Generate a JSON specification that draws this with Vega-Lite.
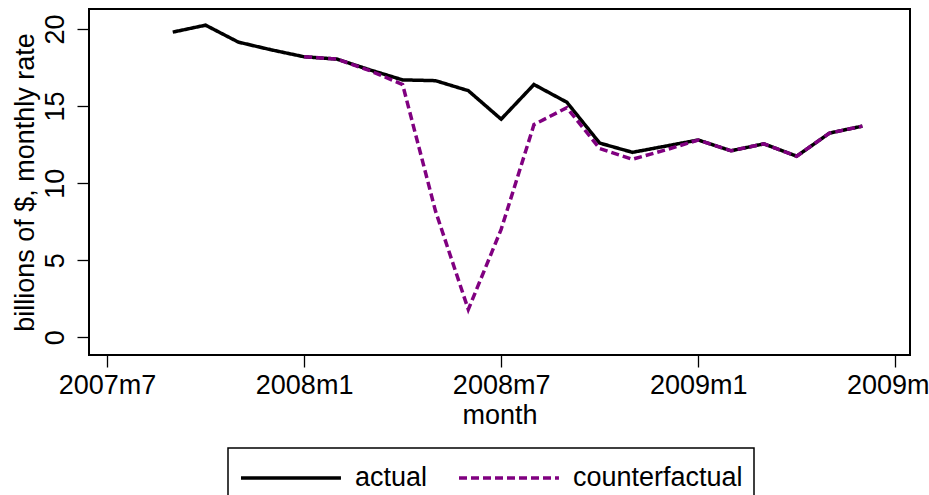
{
  "$schema": "https://vega.github.io/schema/vega-lite/v6.json",
  "width": 821,
  "height": 346,
  "autosize": "none",
  "padding": {"left": 89, "top": 9, "right": 19, "bottom": 140},
  "background": "white",
  "config": {
    "font": "Liberation Sans",
    "view": {"stroke": "black", "strokeWidth": 2},
    "axis": {
      "grid": false,
      "domain": false,
      "tickColor": "black",
      "tickWidth": 1.3,
      "tickSize": 12,
      "labelFont": "Liberation Sans",
      "labelFontSize": 27,
      "labelColor": "black",
      "titleFont": "Liberation Sans",
      "titleFontSize": 27,
      "titleFontWeight": "normal",
      "titleColor": "black"
    },
    "legend": {
      "strokeColor": "black",
      "strokeWidth": 1.5,
      "fillColor": "white",
      "cornerRadius": 0
    }
  },
  "data": {
    "values": [
      {"month": 572, "series": "actual", "value": 19.8},
      {"month": 573, "series": "actual", "value": 20.25},
      {"month": 574, "series": "actual", "value": 19.15},
      {"month": 575, "series": "actual", "value": 18.65},
      {"month": 576, "series": "actual", "value": 18.2},
      {"month": 577, "series": "actual", "value": 18.05},
      {"month": 578, "series": "actual", "value": 17.35},
      {"month": 579, "series": "actual", "value": 16.7},
      {"month": 580, "series": "actual", "value": 16.65},
      {"month": 581, "series": "actual", "value": 16.0},
      {"month": 582, "series": "actual", "value": 14.15},
      {"month": 583, "series": "actual", "value": 16.4},
      {"month": 584, "series": "actual", "value": 15.25},
      {"month": 585, "series": "actual", "value": 12.6},
      {"month": 586, "series": "actual", "value": 12.0},
      {"month": 587, "series": "actual", "value": 12.4},
      {"month": 588, "series": "actual", "value": 12.8},
      {"month": 589, "series": "actual", "value": 12.1},
      {"month": 590, "series": "actual", "value": 12.55},
      {"month": 591, "series": "actual", "value": 11.75},
      {"month": 592, "series": "actual", "value": 13.25},
      {"month": 593, "series": "actual", "value": 13.7},
      {"month": 576, "series": "counterfactual", "value": 18.2},
      {"month": 577, "series": "counterfactual", "value": 18.05},
      {"month": 578, "series": "counterfactual", "value": 17.3},
      {"month": 579, "series": "counterfactual", "value": 16.4},
      {"month": 580, "series": "counterfactual", "value": 8.2},
      {"month": 581, "series": "counterfactual", "value": 1.8},
      {"month": 582, "series": "counterfactual", "value": 7.0},
      {"month": 583, "series": "counterfactual", "value": 13.8},
      {"month": 584, "series": "counterfactual", "value": 14.9},
      {"month": 585, "series": "counterfactual", "value": 12.25},
      {"month": 586, "series": "counterfactual", "value": 11.55},
      {"month": 587, "series": "counterfactual", "value": 12.15},
      {"month": 588, "series": "counterfactual", "value": 12.8},
      {"month": 589, "series": "counterfactual", "value": 12.1},
      {"month": 590, "series": "counterfactual", "value": 12.55},
      {"month": 591, "series": "counterfactual", "value": 11.75},
      {"month": 592, "series": "counterfactual", "value": 13.25},
      {"month": 593, "series": "counterfactual", "value": 13.7}
    ]
  },
  "mark": {"type": "line", "strokeWidth": 3.5},
  "encoding": {
    "x": {
      "field": "month",
      "type": "quantitative",
      "scale": {"domain": [569.45, 594.45], "nice": false, "zero": false},
      "axis": {
        "title": "month",
        "values": [570, 576, 582, 588, 594],
        "labelExpr": "floor(datum.value / 12) + 1960 + 'm' + (datum.value % 12 + 1)",
        "labelBaseline": "alphabetic",
        "labelPadding": 26,
        "labelOverlap": false,
        "labelFlush": false,
        "labelBound": false,
        "titleBaseline": "alphabetic",
        "titleY": 68
      }
    },
    "y": {
      "field": "value",
      "type": "quantitative",
      "scale": {"domain": [-1.15, 21.3], "nice": false, "zero": false},
      "axis": {
        "title": "billions of $, monthly rate",
        "values": [0, 5, 10, 15, 20],
        "labelAngle": -90,
        "labelAlign": "center",
        "labelBaseline": "alphabetic",
        "labelPadding": 14,
        "labelOverlap": false,
        "labelFlush": false,
        "titleAngle": -90,
        "titleAlign": "center",
        "titleBaseline": "alphabetic",
        "titleX": -56,
        "titleY": 173
      }
    },
    "color": {
      "field": "series",
      "type": "nominal",
      "scale": {"domain": ["actual", "counterfactual"], "range": ["black", "#800080"]},
      "legend": {
        "title": null,
        "orient": "none",
        "legendX": 139,
        "legendY": 439,
        "direction": "horizontal",
        "symbolType": "M-1,0H4.88",
        "symbolSize": 1156,
        "symbolStrokeWidth": 3.5,
        "labelFontSize": 27,
        "labelColor": "black",
        "labelLimit": 400,
        "labelOffset": 78,
        "columnPadding": 24,
        "padding": 11
      }
    },
    "strokeDash": {
      "field": "series",
      "type": "nominal",
      "scale": {"domain": ["actual", "counterfactual"], "range": [[1, 0], [8, 4]]},
      "legend": {
        "title": null,
        "orient": "none",
        "legendX": 139,
        "legendY": 439,
        "direction": "horizontal",
        "symbolType": "M-1,0H4.88",
        "symbolSize": 1156,
        "symbolStrokeWidth": 3.5,
        "labelFontSize": 27,
        "labelColor": "black",
        "labelLimit": 400,
        "labelOffset": 78,
        "columnPadding": 24,
        "padding": 11
      }
    }
  }
}
